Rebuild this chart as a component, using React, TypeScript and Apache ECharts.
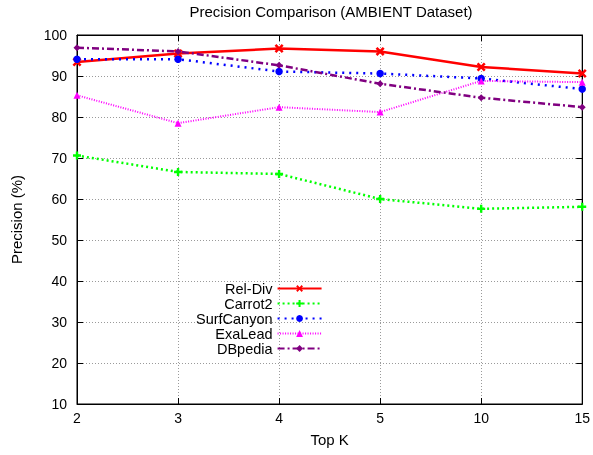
import React, { useEffect, useRef } from 'react';
import * as echarts from 'echarts';

const categories = ['2', '3', '4', '5', '10', '15'];
const yTicks = { min: 10, max: 100, interval: 10 };

const relDiv = [93.4, 95.5, 96.7, 96.0, 92.2, 90.6];
const carrot2 = [70.6, 66.6, 66.1, 60.0, 57.6, 58.1];
const surfCanyon = [94.1, 94.1, 91.1, 90.6, 89.4, 86.8];
const exaLead = [85.3, 78.5, 82.4, 81.2, 88.8, 88.5];
const dbpedia = [96.9, 96.0, 92.6, 88.1, 84.7, 82.4];

const titleText = 'Precision Comparison (AMBIENT Dataset)';
const xName = 'Top K';
const yName = 'Precision (%)';

const X_PATH = 'path://M0,2L2,0L5,3L8,0L10,2L7,5L10,8L8,10L5,7L2,10L0,8L3,5Z';
const PLUS_PATH = 'path://M3.5,0H6.5V3.5H10V6.5H6.5V10H3.5V6.5H0V3.5H3.5Z';

export default function App() {
  const ref = useRef<HTMLDivElement>(null);
  useEffect(() => {
    const chart = echarts.init(ref.current!, null, { renderer: 'svg' });
    const font = '"Liberation Sans", Arial, sans-serif';
    const mk = (name: string, data: number[], color: string, lineType: any, width: number, symbol: string, size: number) => ({
      name,
      type: 'line',
      data,
      xAxisIndex: 0,
      yAxisIndex: 0,
      clip: false,
      symbol,
      symbolSize: size,
      showSymbol: true,
      lineStyle: { color, width, type: lineType },
      itemStyle: { color, borderWidth: 0 },
      emphasis: { disabled: true },
    });
    const gridLine = { show: true, lineStyle: { color: '#9a9a9a', width: 1, type: [1, 2] } };
    chart.setOption({
      animation: false,
      textStyle: { fontFamily: font },
      title: {
        text: titleText,
        left: 331,
        top: 4,
        padding: 0,
        textAlign: 'center',
        textStyle: { fontFamily: font, fontSize: 15, fontWeight: 'normal', color: '#000' },
      },
      grid: {
        left: 77, right: 6, top: 35, bottom: 51,
        show: true, borderColor: '#000', borderWidth: 1, backgroundColor: 'transparent',
      },
      legend: {
        orient: 'vertical',
        align: 'right',
        left: 196,
        top: 281,
        padding: 0,
        itemWidth: 44,
        itemHeight: 8.5,
        itemGap: 0,
        textStyle: { fontFamily: font, fontSize: 14.5, color: '#000', lineHeight: 14.8 },
        data: ['Rel-Div', 'Carrot2', 'SurfCanyon', 'ExaLead', 'DBpedia'],
      },
      xAxis: [
        {
          type: 'category',
          data: categories,
          boundaryGap: false,
          position: 'bottom',
          name: xName,
          nameLocation: 'middle',
          nameGap: 28,
          nameTextStyle: { fontFamily: font, fontSize: 15, color: '#000' },
          axisLine: { show: true, lineStyle: { color: '#000', width: 1 } },
          axisTick: { show: true, inside: true, length: 6, lineStyle: { color: '#000' } },
          axisLabel: { fontFamily: font, fontSize: 14, color: '#000', margin: 7 },
          splitLine: gridLine,
        },
        {
          type: 'category',
          data: categories,
          boundaryGap: false,
          position: 'top',
          axisLine: { show: true, lineStyle: { color: '#000', width: 1 } },
          axisTick: { show: true, inside: true, length: 6, lineStyle: { color: '#000' } },
          axisLabel: { show: false },
          splitLine: { show: false },
        },
      ],
      yAxis: [
        {
          type: 'value',
          ...yTicks,
          position: 'left',
          name: yName,
          nameLocation: 'middle',
          nameRotate: 90,
          nameGap: 53,
          nameTextStyle: { fontFamily: font, fontSize: 15, color: '#000' },
          axisLine: { show: true, lineStyle: { color: '#000', width: 1 } },
          axisTick: { show: true, inside: true, length: 6, lineStyle: { color: '#000' } },
          axisLabel: { fontFamily: font, fontSize: 14, color: '#000', margin: 10 },
          splitLine: gridLine,
        },
        {
          type: 'value',
          ...yTicks,
          position: 'right',
          axisLine: { show: true, lineStyle: { color: '#000', width: 1 } },
          axisTick: { show: true, inside: true, length: 6, lineStyle: { color: '#000' } },
          axisLabel: { show: false },
          splitLine: { show: false },
        },
      ],
      series: [
        mk('Rel-Div', relDiv, '#ff0000', 'solid', 2.5, X_PATH, 9),
        mk('Carrot2', carrot2, '#00ff00', [2, 3], 2.5, PLUS_PATH, 8),
        mk('SurfCanyon', surfCanyon, '#0000ff', [2, 5], 2.5, 'circle', 7.5),
        mk('ExaLead', exaLead, '#ff00ff', [1, 1.5], 2, 'triangle', 7),
        mk('DBpedia', dbpedia, '#800080', [7, 3, 2, 3], 2.5, 'diamond', 7),
      ],
    });
    return () => chart.dispose();
  }, []);
  return <div ref={ref} style={{ position: 'fixed', left: 0, top: 0, width: 593, height: 455 }} />;
}
